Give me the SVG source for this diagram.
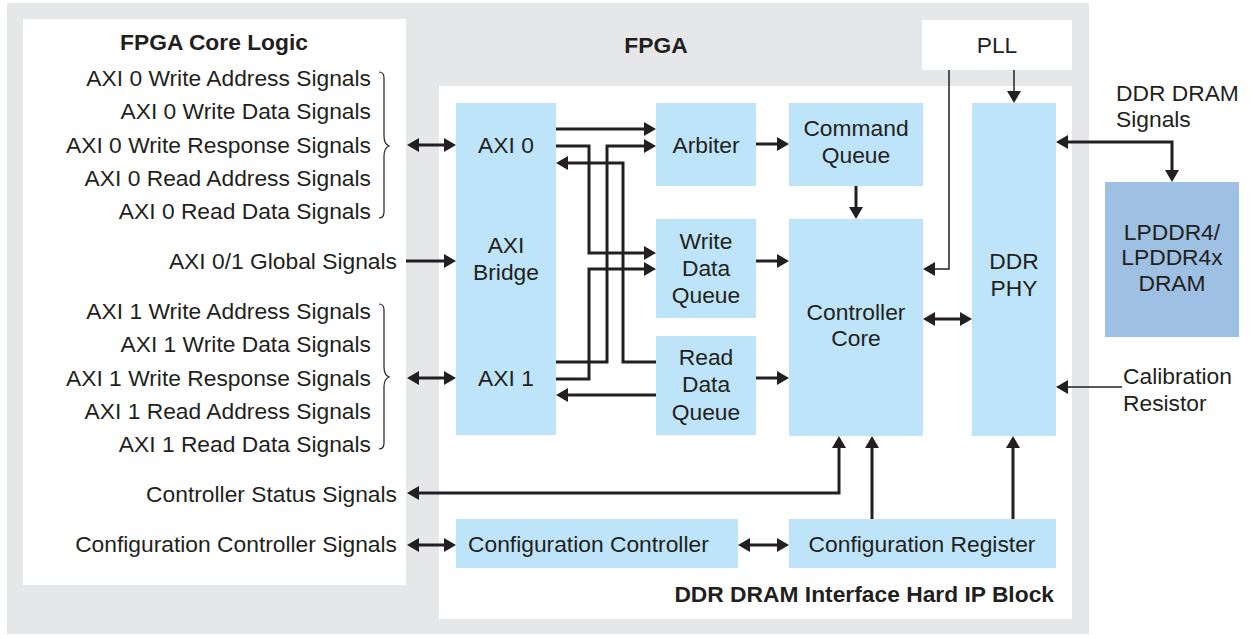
<svg xmlns="http://www.w3.org/2000/svg" width="1250" height="635" viewBox="0 0 1250 635">
<style>
text{font-family:"Liberation Sans",Arial,sans-serif;font-size:22.8px;fill:#231f20}
.b{font-weight:bold}
.m{text-anchor:middle}
.r{text-anchor:end}
.blk{fill:#bde4f8}
.c{fill:none;stroke:#231f20;stroke-width:3}
.t{fill:none;stroke:#231f20;stroke-width:1.5}
.br{fill:none;stroke:#231f20;stroke-width:1.2}
</style>
<defs>
<marker id="a" markerUnits="userSpaceOnUse" markerWidth="12" markerHeight="14" viewBox="0 0 12 14" refX="8" refY="7" orient="auto-start-reverse">
<path d="M0,0 L12,7 L0,14 z" fill="#231f20"/>
</marker>
</defs>
<g id="background">
<rect x="7" y="3" width="1082" height="631" fill="#e6e7e8"/>
<rect x="23" y="19" width="383" height="566" fill="#fff"/>
<rect x="439" y="86" width="633" height="533" fill="#fff"/>
<text class="b m" x="656" y="53">FPGA</text>
<text class="b r" x="1054" y="602">DDR DRAM Interface Hard IP Block</text>
</g>
<g id="core-logic">
<text class="b m" x="214" y="50">FPGA Core Logic</text>
<text class="r" x="371" y="86">AXI 0 Write Address Signals</text>
<text class="r" x="371" y="119">AXI 0 Write Data Signals</text>
<text class="r" x="371" y="153">AXI 0 Write Response Signals</text>
<text class="r" x="371" y="186">AXI 0 Read Address Signals</text>
<text class="r" x="371" y="219">AXI 0 Read Data Signals</text>
<text class="r" x="397" y="269">AXI 0/1 Global Signals</text>
<text class="r" x="371" y="319">AXI 1 Write Address Signals</text>
<text class="r" x="371" y="352">AXI 1 Write Data Signals</text>
<text class="r" x="371" y="386">AXI 1 Write Response Signals</text>
<text class="r" x="371" y="419">AXI 1 Read Address Signals</text>
<text class="r" x="371" y="452">AXI 1 Read Data Signals</text>
<text class="r" x="397" y="502">Controller Status Signals</text>
<text class="r" x="397" y="552">Configuration Controller Signals</text>
<path class="br" d="M379,72 q5,0 5,6 V136 q0,8 5,10 q-5,2 -5,10 V212 q0,6 -5,6"/>
<path class="br" d="M379,304 q5,0 5,6 V367 q0,8 5,10 q-5,2 -5,10 V443 q0,6 -5,6"/>
</g>
<g id="pll">
<rect x="922" y="20" width="150" height="50" fill="#fff"/>
<text class="m" x="997" y="53">PLL</text>
</g>
<g id="axi-bridge">
<rect class="blk" x="456" y="103" width="100" height="332"/>
<text class="m" x="506" y="153">AXI 0</text>
<text class="m" x="506" y="253">AXI</text>
<text class="m" x="506" y="280">Bridge</text>
<text class="m" x="506" y="386">AXI 1</text>
</g>
<g id="arbiter">
<rect class="blk" x="656" y="103" width="100" height="83"/>
<text class="m" x="706" y="153">Arbiter</text>
</g>
<g id="write-data-queue">
<rect class="blk" x="656" y="219" width="100" height="99"/>
<text class="m" x="706" y="249">Write</text>
<text class="m" x="706" y="276">Data</text>
<text class="m" x="706" y="303">Queue</text>
</g>
<g id="read-data-queue">
<rect class="blk" x="656" y="336" width="100" height="99"/>
<text class="m" x="706" y="365">Read</text>
<text class="m" x="706" y="392">Data</text>
<text class="m" x="706" y="420">Queue</text>
</g>
<g id="command-queue">
<rect class="blk" x="789" y="103" width="134" height="83"/>
<text class="m" x="856" y="136">Command</text>
<text class="m" x="856" y="163">Queue</text>
</g>
<g id="controller-core">
<rect class="blk" x="789" y="219" width="134" height="217"/>
<text class="m" x="856" y="320">Controller</text>
<text class="m" x="856" y="346">Core</text>
</g>
<g id="ddr-phy">
<rect class="blk" x="972" y="103" width="84" height="333"/>
<text class="m" x="1014" y="269">DDR</text>
<text class="m" x="1014" y="296">PHY</text>
</g>
<g id="configuration-controller">
<rect class="blk" x="456" y="519" width="282" height="49"/>
<text x="468" y="552">Configuration Controller</text>
</g>
<g id="configuration-register">
<rect class="blk" x="789" y="519" width="267" height="49"/>
<text class="m" x="922" y="552">Configuration Register</text>
</g>
<g id="lpddr4-dram">
<rect x="1105" y="182" width="134" height="155" fill="#9dc0e3"/>
<text class="m" x="1172" y="240">LPDDR4/</text>
<text class="m" x="1172" y="265">LPDDR4x</text>
<text class="m" x="1172" y="291">DRAM</text>
</g>
<g id="external-labels">
<text x="1116" y="101">DDR DRAM</text>
<text x="1116" y="127">Signals</text>
<text x="1123" y="384">Calibration</text>
<text x="1123" y="411">Resistor</text>
</g>
<g id="connectors">
<path class="c" d="M411,145 H452" marker-start="url(#a)" marker-end="url(#a)"/>
<path class="c" d="M411,378 H452" marker-start="url(#a)" marker-end="url(#a)"/>
<path class="c" d="M406,261 H452" marker-end="url(#a)"/>
<path class="c" d="M411,493 H839 V440" marker-start="url(#a)" marker-end="url(#a)"/>
<path class="c" d="M411,545 H452" marker-start="url(#a)" marker-end="url(#a)"/>
<path class="c" d="M742,545 H785" marker-start="url(#a)" marker-end="url(#a)"/>
<path class="c" d="M872,519 V440" marker-end="url(#a)"/>
<path class="c" d="M1013,519 V440" marker-end="url(#a)"/>
<path class="c" d="M756,144 H785" marker-end="url(#a)"/>
<path class="c" d="M856,186 V215" marker-end="url(#a)"/>
<path class="c" d="M756,261 H785" marker-end="url(#a)"/>
<path class="c" d="M756,378 H785" marker-end="url(#a)"/>
<path class="c" d="M927,319 H968" marker-start="url(#a)" marker-end="url(#a)"/>
<path class="c" d="M556,129 H652" marker-end="url(#a)"/>
<path class="c" d="M556,146 H589 V253 H652" marker-end="url(#a)"/>
<path class="c" d="M656,362 H623 V163 H560" marker-end="url(#a)"/>
<path class="c" d="M556,362 H607 V146 H652" marker-end="url(#a)"/>
<path class="c" d="M556,379 H589 V269 H652" marker-end="url(#a)"/>
<path class="c" d="M656,395 H560" marker-end="url(#a)"/>
<path class="c" d="M1060,142 H1172 V178" marker-start="url(#a)" marker-end="url(#a)"/>
<path class="t" d="M1014,70 V99" marker-end="url(#a)"/>
<path class="t" d="M949,70 V269 H927" marker-end="url(#a)"/>
<path class="t" d="M1122,387 H1060" marker-end="url(#a)"/>
</g>
</svg>
